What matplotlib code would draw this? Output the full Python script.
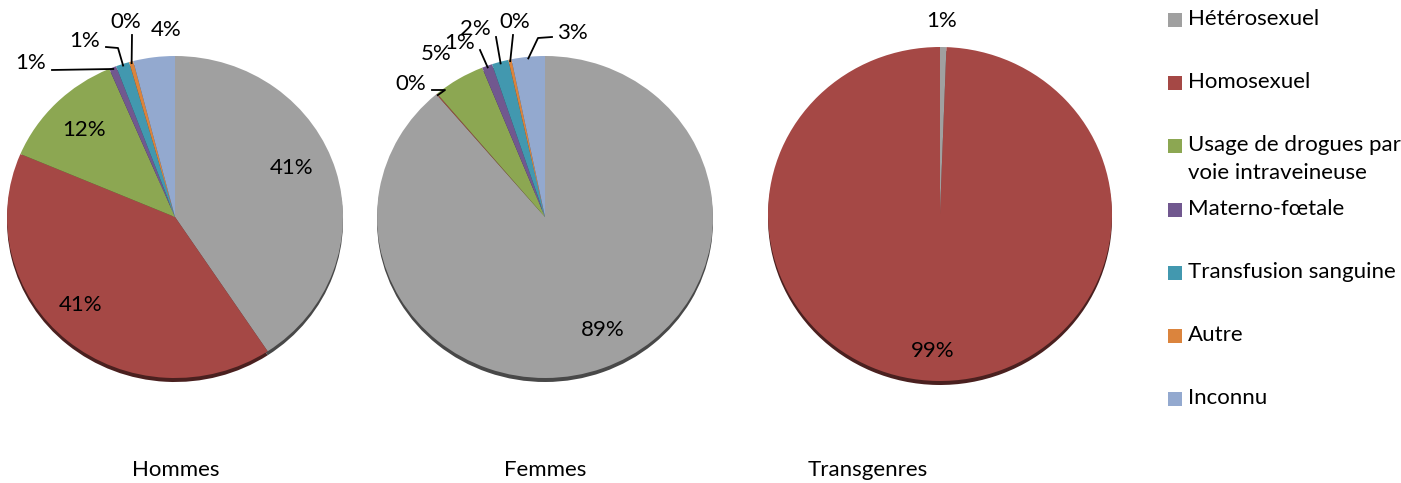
import numpy as np
import matplotlib
matplotlib.use('Agg')
from matplotlib import pyplot as plt
from matplotlib import transforms as mtransforms
from matplotlib.colors import to_rgb
from matplotlib.patches import Rectangle
from matplotlib.lines import Line2D

plt.rcParams['font.family'] = ['Lato', 'DejaVu Sans']

categories = ['Hétérosexuel', 'Homosexuel', 'Usage de drogues par\nvoie intraveineuse',
              'Materno-fœtale', 'Transfusion sanguine', 'Autre', 'Inconnu']
colors = ['#A0A0A0', '#A54845', '#8CA752', '#71588F', '#4298AF', '#DB843D', '#93A9CF']

groups = ['Hommes', 'Femmes', 'Transgenres']
hommes = [40.7, 40.7, 12.2, 0.7, 1.3, 0.4, 4.0]
femmes = [88.8, 0.1, 5.0, 1.0, 1.6, 0.3, 3.2]
transgenres = [0.6, 99.4, 0, 0, 0, 0, 0]
all_values = [hommes, femmes, transgenres]

W, H = 1401, 483
fig = plt.figure(figsize=(W / 100, H / 100), dpi=100)
# pixel transform, y measured from top
pix = mtransforms.Affine2D().scale(1 / W, -1 / H).translate(0, 1) + fig.transFigure

# pie geometry in pixels: centre x, centre y, rx, ry
geom = [(175, 217, 168, 161), (545, 217, 168, 161), (940, 214, 172, 167)]
title_x = [176, 545, 868]

# label placement: (x, y) text centre, elbow points of leader (None = no leader)
label_pos = [
    [((292, 168), None), ((81, 305), None), ((84, 130), None),
     ((31, 63), [(52, 70)]), ((85, 41), [(106, 47), (118, 48)]),
     ((126, 22), [(132, 35)]), ((166, 30), None)],
    [((603, 330), None), ((411, 84), [(432, 90), (445, 90)]), ((436, 54), None),
     ((460, 43), [(480, 50)]), ((475, 29), [(496, 37)]),
     ((515, 22), [(513, 35)]), ((572, 33), [(552, 37), (538, 38)])],
    [((942, 21), None), ((933, 351), None)] + [None] * 5,
]

fs = 16
for values, (cx, cy, rx, ry), labels, gname, tx in zip(all_values, geom, label_pos, groups, title_x):
    ax = fig.add_axes([(cx - rx) / W, (H - cy - ry) / H, 2 * rx / W, 2 * ry / H])
    dark = [tuple(np.array(to_rgb(c)) * 0.45) for c in colors]
    ax.pie(values, colors=dark, startangle=90, counterclock=False, radius=1,
           center=(0, -4 / ry), wedgeprops=dict(linewidth=0))
    wedges, _ = ax.pie(values, colors=colors, startangle=90, counterclock=False, radius=1,
                       wedgeprops=dict(linewidth=0, antialiased=True))
    ax.set_aspect('auto')
    ax.set_xlim(-1, 1)
    ax.set_ylim(-1, 1)
    ax.axis('off')

    for v, w, lab in zip(values, wedges, labels):
        if lab is None or v == 0:
            continue
        (lx, ly), elbows = lab
        fig.text(lx / W, 1 - ly / H, f'{round(v)}%', ha='center', va='center',
                 fontsize=fs, color='black')
        if elbows:
            mid = np.deg2rad((w.theta1 + w.theta2) / 2)
            px, py = ax.transData.transform((0.99 * np.cos(mid), 0.99 * np.sin(mid)))
            pts = elbows + [(px, H - py)]
            xs = [p[0] for p in pts]
            ys = [p[1] for p in pts]
            fig.add_artist(Line2D(xs, ys, color='black', lw=1.3, transform=pix))

    fig.text(tx / W, 1 - 470 / H, gname, ha='center', va='center', fontsize=fs)

# legend drawn by hand to keep Excel-like spacing
for i, (cat, col) in enumerate(zip(categories, colors)):
    y = 20 + i * 63.2
    fig.add_artist(Rectangle((1168, y - 7), 14, 14, facecolor=col, edgecolor='none',
                             transform=pix))
    fig.text(1188 / W, 1 - (y - 11) / H, cat, ha='left', va='top', fontsize=fs,
             linespacing=1.45)

fig.savefig('out.png', dpi=100)
